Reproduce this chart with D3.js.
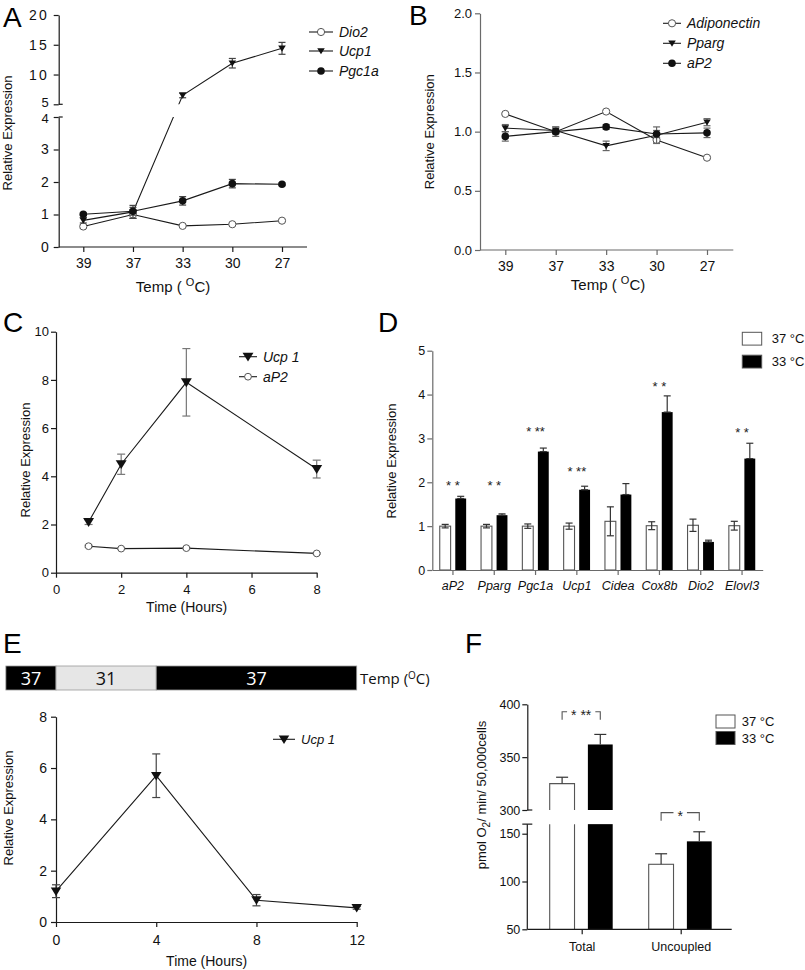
<!DOCTYPE html>
<html><head><meta charset="utf-8">
<script src="https://cdn.jsdelivr.net/npm/d3@7"></script>
<style>
body{margin:0;background:#fff;}
svg{font-family:"Liberation Sans",Arial,sans-serif;display:block;}
</style></head><body>
<script>
// ---------- DATA ----------
const tempLabels = ["39","37","33","30","27"];
const aDio2 = [0.63,1.00,0.65,0.70,0.81];
const aDio2Err = [0.05,0.12,0.03,0.03,0.03];
const aUcp1 = [0.82,1.08,6.5,11.9,14.4];
const aUcp1Err = [0.08,0.2,0.4,0.8,1.0];
const aPgc1a = [1.01,1.10,1.42,1.95,1.93];
const aPgc1aErr = [0.04,0.12,0.13,0.13,0.04];

const bAdipo = [1.15,1.00,1.17,0.93,0.78];
const bAdipoErr = [0.01,0.01,0.01,0.02,0.01];
const bPparg = [1.03,1.01,0.88,0.97,1.08];
const bPpargErr = [0.03,0.03,0.04,0.07,0.03];
const bAp2 = [0.96,1.00,1.04,0.98,0.99];
const bAp2Err = [0.04,0.04,0.02,0.03,0.04];

const cHours = [1,2,4,8];
const cUcp1 = [2.1,4.5,7.9,4.3];
const cUcp1Err = [0.1,0.42,1.4,0.37];
const cAp2 = [1.1,1.0,1.02,0.8];
const cAp2Err = [0.04,0.03,0.03,0.03];

const dGenes = ["aP2","Pparg","Pgc1a","Ucp1","Cidea","Cox8b","Dio2","Elovl3"];
const d37 = [1.0,1.0,1.0,1.0,1.11,1.01,1.02,1.01];
const d37Err = [0.04,0.04,0.05,0.07,0.33,0.09,0.14,0.10];
const d33 = [1.63,1.25,2.70,1.83,1.72,3.60,0.64,2.54];
const d33Err = [0.05,0.03,0.08,0.08,0.25,0.37,0.04,0.35];
const dStars = ["* *","* *","* **","* **","","* *","","* *"];
const dStarLevel = [2.0,2.0,3.23,2.31,null,4.26,null,3.21];
const groupLabels = ["37 °C","33 °C"];

const eHours = [0,4,8,12];
const eUcp1 = [1.2,5.7,0.85,0.55];
const eUcp1Err = [0.25,0.85,0.22,0.05];
const eTempFrom = [-2,0,4];
const eTempTo = [0,4,12];
const eTempLabels = ["37","31","37"];

const fGroups = ["Total","Uncoupled"];
const f37 = [325,118];
const f37Err = [6,11];
const f33 = [362,142];
const f33Err = [9.5,10];
const fStars = ["* **","*"];
const fBracketLevel = [393,172];

// ---------- HELPERS ----------
const svg = d3.select("body").append("svg").attr("width",805).attr("height",970);
const INK = "#1a1a1a";
const intFmt = d3.format("d");

function styleAxis(g, color, fs, italic){
  g.attr("font-family",null).attr("font-size",null);
  g.selectAll("path,line").attr("stroke",color).attr("stroke-width",1.2);
  g.selectAll("text").attr("fill","#111").style("font-size",fs+"px")
    .style("font-style", italic ? "italic" : "normal");
  return g;
}
function marker(g, type, x, y, s){
  if(type==="open"){
    g.append("circle").attr("cx",x).attr("cy",y).attr("r",s).attr("fill","#fff").attr("stroke","#555").attr("stroke-width",1);
  } else if(type==="dot"){
    g.append("circle").attr("cx",x).attr("cy",y).attr("r",s).attr("fill","#111");
  } else {
    const w=s*2.1,h=s*1.7;
    g.append("path").attr("d",`M${-w/2},${-h*0.45}L${w/2},${-h*0.45}L0,${h*0.55}Z`)
      .attr("transform",`translate(${x},${y})`).attr("fill","#111");
  }
}
function errBar(g, x, y0, y1, cap, color){
  g.append("line").attr("x1",x).attr("x2",x).attr("y1",y0).attr("y2",y1).attr("stroke",color).attr("stroke-width",1.2);
  g.append("line").attr("x1",x-cap/2).attr("x2",x+cap/2).attr("y1",y0).attr("y2",y0).attr("stroke",color).attr("stroke-width",1.2);
  g.append("line").attr("x1",x-cap/2).attr("x2",x+cap/2).attr("y1",y1).attr("y2",y1).attr("stroke",color).attr("stroke-width",1.2);
}
function series(g, xs, vals, errs, xf, yf, type, size, cap, ecol, clip){
  const line = d3.line().x((d,i)=>xf(xs[i])).y(d=>yf(d));
  const p = g.append("path").datum(vals).attr("d",line).attr("fill","none").attr("stroke",INK).attr("stroke-width",1.1);
  if(clip) p.attr("clip-path",clip);
  vals.forEach((v,i)=>errBar(g, xf(xs[i]), yf(v-errs[i]), yf(v+errs[i]), cap, ecol));
  vals.forEach((v,i)=>marker(g, type, xf(xs[i]), yf(v), size));
}
function legendRow(g, x, y, type, size, name, fs, half){
  g.append("line").attr("x1",x-half).attr("x2",x+half).attr("y1",y).attr("y2",y).attr("stroke",INK).attr("stroke-width",1.1);
  marker(g, type, x, y, size);
  g.append("text").attr("x",x+half+6).attr("y",y+fs*0.36).text(name)
    .style("font-size",fs+"px").style("font-style","italic").attr("fill","#111");
}
function panelLetter(t,x,y){
  svg.append("text").attr("x",x).attr("y",y).text(t).style("font-size","28px").attr("fill","#000");
}
function yTitle(g, x, cy, txt, fs){
  return g.append("text").attr("transform",`translate(${x},${cy}) rotate(-90)`).attr("text-anchor","middle")
    .style("font-size",(fs||13)+"px").attr("fill","#111").text(txt);
}
function tempTitle(g, cx, y){
  const t = g.append("text").attr("x",cx).attr("y",y).attr("text-anchor","middle").style("font-size","15px").attr("fill","#111");
  t.append("tspan").text("Temp ( ");
  t.append("tspan").text("O").attr("dy",-6).style("font-size","11px");
  t.append("tspan").text("C)").attr("dy",6);
}

// ---------- PANEL A ----------
panelLetter("A",3,27);
const gA = svg.append("g");
const xA = d3.scalePoint().domain(tempLabels).range([83.3,282]);
const yAlo = d3.scaleLinear().domain([0,4]).range([247,117]);
const yAhi = d3.scaleLinear().domain([5,20]).range([104.3,15]);
const yA = v => v <= 4.5 ? yAlo(v) : yAhi(v);
gA.append("line").attr("x1",58.7).attr("x2",307).attr("y1",247).attr("y2",247).attr("stroke",INK).attr("stroke-width",1.2);
const axA = gA.append("g").attr("transform","translate(0,247)").call(d3.axisBottom(xA).tickSize(5).tickPadding(6).tickSizeOuter(0));
axA.select(".domain").remove();
styleAxis(axA, INK, 14);
const ayAl = gA.append("g").attr("transform","translate(58.7,0)").call(d3.axisLeft(yAlo).tickValues([0,1,2,3,4]).tickFormat(intFmt).tickSize(5).tickPadding(5).tickSizeOuter(0));
styleAxis(ayAl, INK, 14);
ayAl.selectAll("text").filter(d=>d===4).style("font-size","13px").attr("dy","0.45em");
const ayAh = gA.append("g").attr("transform","translate(58.7,0)").call(d3.axisLeft(yAhi).tickValues([5,10,15,20]).tickFormat(intFmt).tickSize(5).tickPadding(5).tickSizeOuter(0));
styleAxis(ayAh, INK, 14);
ayAh.selectAll("text").filter(d=>d>=10).style("letter-spacing","2px");
ayAh.selectAll("text").filter(d=>d===5).style("font-size","13px").attr("dy","0.2em");
[yAhi(5), yAlo(4)].forEach(y=>gA.append("line").attr("x1",58.7).attr("x2",62.7).attr("y1",y).attr("y2",y).attr("stroke",INK).attr("stroke-width",1.2));
const defs = svg.append("defs");
const cp = defs.append("clipPath").attr("id","clipA");
cp.append("rect").attr("x",40).attr("y",0).attr("width",300).attr("height",yAhi(5));
cp.append("rect").attr("x",40).attr("y",yAlo(4)).attr("width",300).attr("height",200);
series(gA, tempLabels, aDio2, aDio2Err, xA, yA, "open", 3.6, 7, "#444", "url(#clipA)");
series(gA, tempLabels, aUcp1, aUcp1Err, xA, yA, "tri", 3.6, 7, "#444", "url(#clipA)");
series(gA, tempLabels, aPgc1a, aPgc1aErr, xA, yA, "dot", 3.8, 7, "#444", "url(#clipA)");
yTitle(gA, 12, 133, "Relative Expression");
tempTitle(gA, 173, 292);
legendRow(gA, 321, 32, "open", 3.6, "Dio2", 14, 12);
legendRow(gA, 321, 51, "tri", 3.6, "Ucp1", 14, 12);
legendRow(gA, 321, 71, "dot", 3.8, "Pgc1a", 14, 12);

// ---------- PANEL B ----------
panelLetter("B",409,25);
const gB = svg.append("g");
const GR = "#6a6a6a";
const xB = d3.scalePoint().domain(tempLabels).range([505.3,707]);
const yB = d3.scaleLinear().domain([0,2]).range([250,13.3]);
gB.append("line").attr("x1",480).attr("x2",733.3).attr("y1",250).attr("y2",250).attr("stroke",GR).attr("stroke-width",1.2);
const axB = gB.append("g").attr("transform","translate(0,250)").call(d3.axisBottom(xB).tickSize(5).tickPadding(6).tickSizeOuter(0));
axB.select(".domain").remove();
styleAxis(axB, GR, 14);
styleAxis(gB.append("g").attr("transform","translate(480,0)").call(d3.axisLeft(yB).tickValues([0,0.5,1,1.5,2]).tickFormat(d3.format(".1f")).tickSize(5).tickPadding(3).tickSizeOuter(0)), GR, 13);
series(gB, tempLabels, bAdipo, bAdipoErr, xB, yB, "open", 3.6, 7, "#666");
series(gB, tempLabels, bPparg, bPpargErr, xB, yB, "tri", 3.6, 7, "#666");
series(gB, tempLabels, bAp2, bAp2Err, xB, yB, "dot", 3.8, 7, "#666");
yTitle(gB, 434, 131.7, "Relative Expression");
tempTitle(gB, 608, 290);
legendRow(gB, 672, 23.3, "open", 3.6, "Adiponectin", 14, 9);
legendRow(gB, 672, 43.3, "tri", 3.6, "Pparg", 14, 9);
legendRow(gB, 672, 63.3, "dot", 3.8, "aP2", 14, 9);

// ---------- PANEL C ----------
panelLetter("C",3,331.5);
const gC = svg.append("g");
const xC = d3.scaleLinear().domain([0,8]).range([56,316.7]);
const yC = d3.scaleLinear().domain([0,10]).range([572.7,331.7]);
styleAxis(gC.append("g").attr("transform","translate(0,572.7)").call(d3.axisBottom(xC).tickValues([0,2,4,6,8]).tickFormat(intFmt).tickSize(5).tickPadding(7).tickSizeOuter(0)), INK, 13);
styleAxis(gC.append("g").attr("transform","translate(56,0)").call(d3.axisLeft(yC).tickValues([0,2,4,6,8,10]).tickFormat(intFmt).tickSize(5).tickPadding(2).tickSizeOuter(0)), INK, 13);
series(gC, cHours, cAp2, cAp2Err, xC, yC, "open", 3.4, 8, "#777");
series(gC, cHours, cUcp1, cUcp1Err, xC, yC, "tri", 5.2, 8, "#777");
yTitle(gC, 29.5, 460, "Relative Expression");
gC.append("text").attr("x",186.7).attr("y",611.5).attr("text-anchor","middle").style("font-size","14px").attr("fill","#111").text("Time (Hours)");
legendRow(gC, 248, 356.7, "tri", 5.2, "Ucp 1", 14, 9);
legendRow(gC, 248, 376.7, "open", 3.4, "aP2", 14, 9);

// ---------- PANEL D ----------
panelLetter("D",378,331.5);
const gD = svg.append("g");
const xD = d3.scaleBand().domain(dGenes).range([432.3,762.7]);
const subD = d3.scaleBand().domain(["37","33"]).range([-13.2,13.2]).paddingInner(0.3);
const yD = d3.scaleLinear().domain([0,5]).range([570,350.7]);
dGenes.forEach((g,i)=>{
  const cx = xD(g)+xD.bandwidth()/2;
  const x1 = cx+subD("37"), x2 = cx+subD("33"), bw = subD.bandwidth();
  gD.append("rect").attr("x",x1).attr("y",yD(d37[i])).attr("width",bw).attr("height",yD(0)-yD(d37[i])).attr("fill","#fff").attr("stroke","#555").attr("stroke-width",1.1);
  errBar(gD, x1+bw/2, yD(d37[i]-d37Err[i]), yD(d37[i]+d37Err[i]), 7, "#333");
  gD.append("rect").attr("x",x2).attr("y",yD(d33[i])).attr("width",bw).attr("height",yD(0)-yD(d33[i])).attr("fill","#000");
  errBar(gD, x2+bw/2, yD(d33[i]), yD(d33[i]+d33Err[i]), 7, "#333");
  if(dStars[i]) gD.append("text").attr("x",cx).attr("y",yD(dStarLevel[i])+7.5).attr("text-anchor","middle").style("font-size","13px").attr("fill","#222").text(dStars[i]);
});
const axD = gD.append("g").attr("transform","translate(0,570)").call(d3.axisBottom(xD).tickSize(5).tickPadding(6).tickSizeOuter(0));
styleAxis(axD, GR, 12.5, true);
styleAxis(gD.append("g").attr("transform","translate(432.3,0)").call(d3.axisLeft(yD).tickValues([0,1,2,3,4,5]).tickFormat(intFmt).tickSize(5).tickPadding(2).tickSizeOuter(0)), GR, 12.5);
yTitle(gD, 396, 461, "Relative Expression");
[["#fff",332.3],["#000",355.2]].forEach((b,i)=>{
  gD.append("rect").attr("x",742.3).attr("y",b[1]).attr("width",19.4).attr("height",12.8).attr("fill",b[0]).attr("stroke","#555").attr("stroke-width",1);
  gD.append("text").attr("x",771.7).attr("y",b[1]+11).style("font-size","13px").attr("fill","#111").text(groupLabels[i]);
});

// ---------- PANEL E ----------
panelLetter("E",3,653);
const gE = svg.append("g");
const xE = d3.scaleLinear().domain([0,12]).range([56,356.7]);
const yE = d3.scaleLinear().domain([0,8]).range([922,716.7]);
eTempLabels.forEach((t,i)=>{
  const dark = t==="37";
  gE.append("rect").attr("x",xE(eTempFrom[i])).attr("y",666).attr("width",xE(eTempTo[i])-xE(eTempFrom[i])).attr("height",24)
    .attr("fill",dark?"#000":"#e6e6e6").attr("stroke","#999").attr("stroke-width",0.8);
  gE.append("text").attr("x",(xE(eTempFrom[i])+xE(eTempTo[i]))/2).attr("y",684.5).attr("text-anchor","middle")
    .style("font-family","'Open Sans',sans-serif").style("font-size","18px").attr("fill",dark?"#fff":"#111").text(t);
});
const tt = gE.append("text").attr("x",360).attr("y",684).style("font-family","'Open Sans',sans-serif").style("font-size","15px").attr("fill","#111");
tt.append("tspan").text("Temp (");
tt.append("tspan").text("O").attr("dy",-5).style("font-size","10px");
tt.append("tspan").text("C)").attr("dy",5);
styleAxis(gE.append("g").attr("transform","translate(0,922)").call(d3.axisBottom(xE).tickValues(eHours).tickFormat(intFmt).tickSize(5).tickPadding(8).tickSizeOuter(0)), INK, 14);
styleAxis(gE.append("g").attr("transform","translate(56,0)").call(d3.axisLeft(yE).tickValues([0,2,4,6,8]).tickFormat(intFmt).tickSize(5).tickPadding(4).tickSizeOuter(0)), INK, 14);
series(gE, eHours, eUcp1, eUcp1Err, xE, yE, "tri", 5, 8, "#444");
yTitle(gE, 13, 808, "Relative Expression");
gE.append("text").attr("x",206.7).attr("y",966).attr("text-anchor","middle").style("font-size","14px").attr("fill","#111").text("Time (Hours)");
legendRow(gE, 284, 739.3, "tri", 5, "Ucp 1", 13, 11);

// ---------- PANEL F ----------
panelLetter("F",465,653);
const gF = svg.append("g");
const xF = d3.scalePoint().domain(fGroups).range([581.7,680.7]);
const subF = d3.scaleBand().domain(["37","33"]).range([-32,31]).paddingInner(0.35);
const yFu = d3.scaleLinear().domain([300,400]).range([810,704.3]);
const yFl = d3.scaleLinear().domain([50,150]).range([929.3,833.7]);
const yF = v => v >= 250 ? yFu(v) : yFl(v);
const lowTop = yFl(160);
function fBar(x, w, v, white){
  const fill = white ? "#fff" : "#000";
  if(v >= 300){
    gF.append("rect").attr("x",x).attr("y",yFu(v)).attr("width",w).attr("height",yFu(300)-yFu(v)).attr("fill",fill);
    gF.append("rect").attr("x",x).attr("y",lowTop).attr("width",w).attr("height",yFl(50)-lowTop).attr("fill",fill);
    if(white){
      gF.append("path").attr("d",`M${x},${yFu(300)}V${yFu(v)}H${x+w}V${yFu(300)}M${x},${yFl(50)}V${lowTop}M${x+w},${lowTop}V${yFl(50)}`)
        .attr("fill","none").attr("stroke","#555").attr("stroke-width",1.1);
    }
  } else {
    gF.append("rect").attr("x",x).attr("y",yFl(v)).attr("width",w).attr("height",yFl(50)-yFl(v)).attr("fill",fill)
      .attr("stroke",white?"#555":"none").attr("stroke-width",1.1);
  }
}
function upErr(x, v, e, cap){
  gF.append("line").attr("x1",x).attr("x2",x).attr("y1",yF(v)).attr("y2",yF(v+e)).attr("stroke","#333").attr("stroke-width",1.2);
  gF.append("line").attr("x1",x-cap/2).attr("x2",x+cap/2).attr("y1",yF(v+e)).attr("y2",yF(v+e)).attr("stroke","#333").attr("stroke-width",1.2);
}
fGroups.forEach((g,i)=>{
  const c = xF(g), bw = subF.bandwidth();
  const x1 = c+subF("37"), x2 = c+subF("33");
  fBar(x1,bw,f37[i],true); upErr(x1+bw/2,f37[i],f37Err[i],12);
  fBar(x2,bw,f33[i],false); upErr(x2+bw/2,f33[i],f33Err[i],12);
  const yb = yF(fBracketLevel[i]), l = x1+bw/2, r = x2+bw/2, cx = (l+r)/2;
  const st = gF.append("text").attr("x",cx).attr("y",yb+8.5).attr("text-anchor","middle").style("font-size","14px").attr("fill","#222").text(fStars[i]);
  const tw = st.node().getComputedTextLength()/2 + 4;
  gF.append("path").attr("d",`M${l},${yb+8}V${yb}H${cx-tw}M${cx+tw},${yb}H${r}V${yb+8}`).attr("fill","none").attr("stroke","#555").attr("stroke-width",1.1);
});
const axF = gF.append("g").attr("transform","translate(0,929.3)").call(d3.axisBottom(xF).tickSize(5).tickPadding(8).tickSizeOuter(0));
axF.select(".domain").remove();
gF.append("line").attr("x1",527.3).attr("x2",731.7).attr("y1",929.3).attr("y2",929.3).attr("stroke",INK).attr("stroke-width",1.2);
styleAxis(axF, INK, 12.5);
styleAxis(gF.append("g").attr("transform","translate(527.3,0)").call(d3.axisLeft(yFu).tickValues([300,350,400]).tickFormat(intFmt).tickSize(5).tickPadding(2).tickSizeOuter(0)), INK, 12.5);
const ayFl = gF.append("g").attr("transform","translate(527.3,0)").call(d3.axisLeft(yFl).tickValues([50,100,150]).tickFormat(intFmt).tickSize(5).tickPadding(2).tickSizeOuter(0));
ayFl.select(".domain").attr("d",`M0,${yFl(50)}V${lowTop}`);
styleAxis(ayFl, INK, 12.5);
gF.append("line").attr("x1",522.3).attr("x2",532.3).attr("y1",lowTop).attr("y2",lowTop).attr("stroke",INK).attr("stroke-width",1.2);
gF.append("line").attr("x1",527.3).attr("x2",532.3).attr("y1",yFu(300)).attr("y2",yFu(300)).attr("stroke",INK).attr("stroke-width",1.2);
const fy = gF.append("text").attr("transform","translate(486,795) rotate(-90)").attr("text-anchor","middle").style("font-size","13px").attr("fill","#111");
fy.append("tspan").text("pmol O");
fy.append("tspan").text("2").attr("dy",4).style("font-size","10px");
fy.append("tspan").text("/ min/ 50,000cells").attr("dy",-4);
[["#fff",715],["#000",731.5]].forEach((b,i)=>{
  gF.append("rect").attr("x",716).attr("y",b[1]).attr("width",19).attr("height",13).attr("fill",b[0]).attr("stroke","#555").attr("stroke-width",1);
  gF.append("text").attr("x",741.7).attr("y",b[1]+11).style("font-size","13px").attr("fill","#111").text(groupLabels[i]);
});
</script>
</body></html>
